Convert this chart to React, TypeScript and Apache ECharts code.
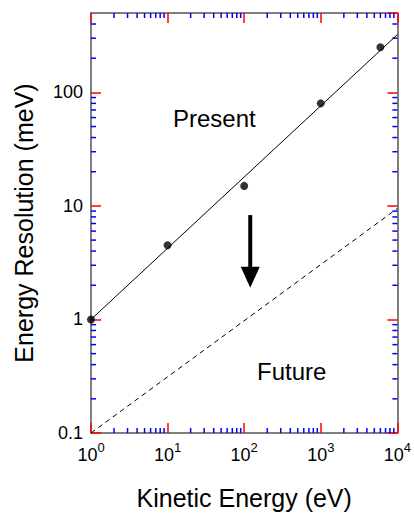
import React, { useEffect, useRef } from 'react';
import * as echarts from 'echarts';

// ---- data ----
const measuredEnergy = [1, 10, 100, 1000, 6000];
const measuredResolution = [1, 4.5, 15, 80, 250];

const presentLineEnergy = [1, 10000];
const presentLineResolution = [1, 323];

const futureLineEnergy = [1, 10000];
const futureLineResolution = [0.1, 9.5];

const arrowEnergy = 120;
const arrowFrom = 8.3;
const arrowTo = 1.9;

const xMajorExponents = [0, 1, 2, 3, 4];
const yTickLabels = ['0.1', '1', '10', '100'];
const minorMantissas = [2, 3, 4, 5, 6, 7, 8, 9];
const xDecades = [1, 10, 100, 1000];
const yDecades = [0.1, 1, 10, 100];

const xMin = 1;
const xMax = 10000;
const yMin = 0.1;
const yMax = 500;

const FONT = "'Liberation Sans', Arial, Helvetica, sans-serif";
const FRAME = '#555';

export default function App() {
  const ref = useRef<HTMLDivElement>(null);

  useEffect(() => {
    if (!ref.current) return;
    const chart = echarts.init(ref.current, undefined, { renderer: 'svg' });

    const xMinor = xDecades.flatMap((d) => minorMantissas.map((m) => +(m * d).toPrecision(3)));
    const yMinor = yDecades
      .flatMap((d) => minorMantissas.map((m) => +(m * d).toPrecision(3)))
      .filter((v) => v < yMax);

    const minorLen = 5;

    const mkAxis = (extra: any) => ({
      type: 'log',
      logBase: 10,
      axisLine: { show: true, lineStyle: { color: FRAME, width: 1.5 } },
      axisTick: { show: true, inside: true, length: 10, lineStyle: { color: 'red', width: 1.5 } },
      splitLine: { show: false },
      ...extra,
    });

    // one data item per tick mark: [x, y, side]; side 0 bottom, 1 top, 2 left, 3 right
    const minorData: number[][] = [
      ...xMinor.map((v) => [v, yMin, 0]),
      ...xMinor.map((v) => [v, yMax, 1]),
      ...yMinor.map((v) => [xMin, v, 2]),
      ...yMinor.map((v) => [xMax, v, 3]),
    ];

    const option: any = {
      animation: false,
      grid: { left: 91, right: 14, top: 13, bottom: 79 },
      xAxis: [
        mkAxis({
          position: 'bottom',
          min: xMin,
          max: xMax,
          interval: 1,
          name: 'Kinetic Energy (eV)',
          nameLocation: 'middle',
          nameGap: 52,
          nameTextStyle: { fontFamily: FONT, fontSize: 25, color: '#000' },
          axisLabel: {
            show: true,
            margin: 8,
            formatter: (v: number) => {
              const e = Math.round(Math.log10(v));
              return xMajorExponents.includes(e) ? `{b|10}{s|${e}}` : '';
            },
            rich: {
              b: { fontFamily: FONT, fontSize: 18, color: '#000' },
              s: { fontFamily: FONT, fontSize: 13, color: '#000', padding: [0, 0, 14, 0] },
            },
          },
        }),
        mkAxis({ position: 'top', min: xMin, max: xMax, interval: 1, axisLabel: { show: false } }),
      ],
      yAxis: [
        mkAxis({
          position: 'left',
          min: yMin,
          max: yMax,
          interval: 1,
          name: 'Energy Resolution (meV)',
          nameLocation: 'middle',
          nameGap: 55,
          nameRotate: 90,
          nameTextStyle: { fontFamily: FONT, fontSize: 25, color: '#000' },
          axisLabel: {
            show: true,
            margin: 8,
            showMaxLabel: false,
            fontFamily: FONT,
            fontSize: 18,
            color: '#000',
            formatter: (v: number) => {
              const s = String(+v.toPrecision(3));
              return yTickLabels.includes(s) ? s : '';
            },
          },
        }),
        mkAxis({ position: 'right', min: yMin, max: yMax, interval: 1, axisLabel: { show: false } }),
      ],
      series: [
        {
          type: 'custom',
          silent: true,
          clip: false,
          data: minorData,
          renderItem: (params: any, api: any) => {
            const p = api.coord([api.value(0), api.value(1)]);
            const side = api.value(2);
            let shape;
            if (side === 0) shape = { x1: p[0], y1: p[1], x2: p[0], y2: p[1] - minorLen };
            else if (side === 1) shape = { x1: p[0], y1: p[1], x2: p[0], y2: p[1] + minorLen };
            else if (side === 2) shape = { x1: p[0], y1: p[1], x2: p[0] + minorLen, y2: p[1] };
            else shape = { x1: p[0], y1: p[1], x2: p[0] - minorLen, y2: p[1] };
            return { type: 'line', shape, style: { stroke: 'blue', lineWidth: 1.5 } };
          },
        },
        {
          type: 'line',
          data: presentLineEnergy.map((x, i) => [x, presentLineResolution[i]]),
          showSymbol: false,
          lineStyle: { color: '#000', width: 1 },
          silent: true,
        },
        {
          type: 'line',
          data: futureLineEnergy.map((x, i) => [x, futureLineResolution[i]]),
          showSymbol: false,
          lineStyle: { color: '#000', width: 1, type: [5, 4] },
          silent: true,
        },
        {
          type: 'scatter',
          data: measuredEnergy.map((x, i) => [x, measuredResolution[i]]),
          symbol: 'circle',
          symbolSize: 8,
          itemStyle: { color: '#000' },
          silent: true,
        },
        {
          type: 'custom',
          silent: true,
          encode: { x: 0, y: [1, 2] },
          data: [[arrowEnergy, arrowFrom, arrowTo]],
          renderItem: (params: any, api: any) => {
            const top = api.coord([api.value(0), api.value(1)]);
            const tip = api.coord([api.value(0), api.value(2)]);
            const headLen = 21;
            const headHalf = 9.5;
            const x = top[0];
            return {
              type: 'group',
              children: [
                {
                  type: 'rect',
                  shape: { x: x - 2, y: top[1], width: 4, height: tip[1] - headLen - top[1] + 1 },
                  style: { fill: '#000' },
                },
                {
                  type: 'polygon',
                  shape: {
                    points: [
                      [x - headHalf, tip[1] - headLen],
                      [x + headHalf, tip[1] - headLen],
                      [x, tip[1]],
                    ],
                  },
                  style: { fill: '#000' },
                },
              ],
            };
          },
        },
      ],
      graphic: [
        { type: 'text', left: 173, top: 106, style: { text: 'Present', fontFamily: FONT, fontSize: 24, fill: '#000' } },
        { type: 'text', left: 257, top: 359, style: { text: 'Future', fontFamily: FONT, fontSize: 24, fill: '#000' } },
      ],
    };

    chart.setOption(option);
    return () => chart.dispose();
  }, []);

  return <div ref={ref} style={{ position: 'absolute', left: 0, top: 0, width: 414, height: 515 }} />;
}
